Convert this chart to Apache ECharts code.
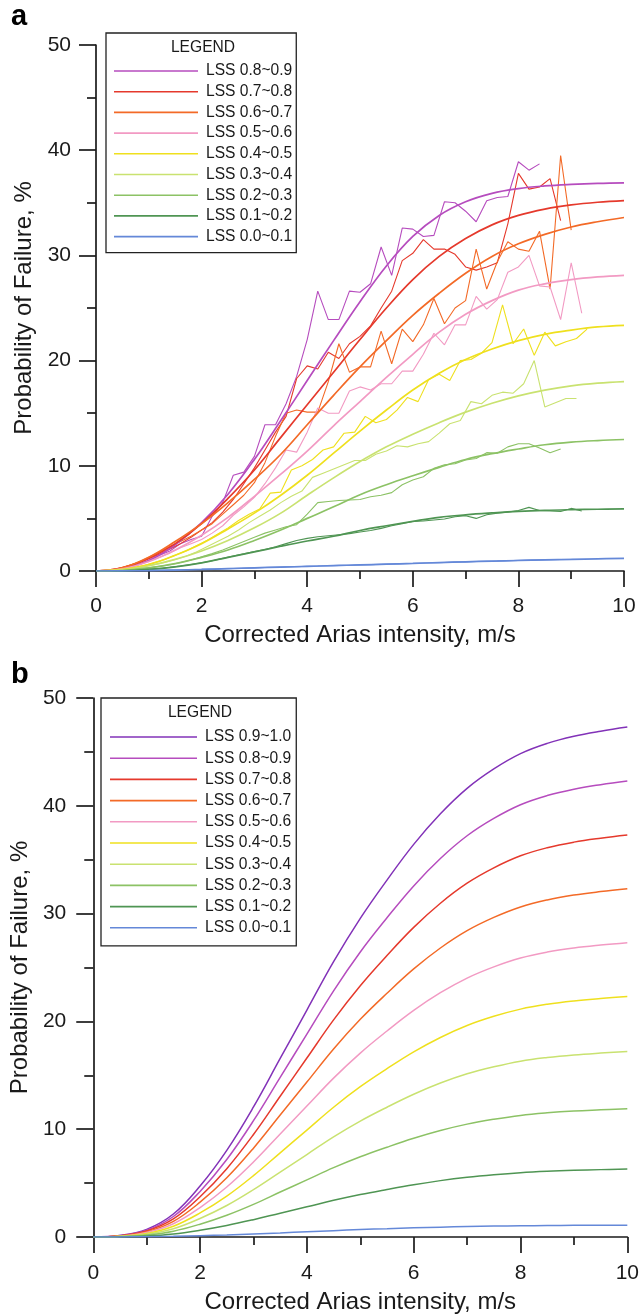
<!DOCTYPE html>
<html><head><meta charset="utf-8">
<script src="https://cdn.jsdelivr.net/npm/echarts@6/dist/echarts.min.js"></script>
<style>html,body{margin:0;padding:0;background:#fff}#c{width:642px;height:1315px}</style>
</head><body><div id="c"></div>
<script>
// ---------- DATA ----------
const namesA = ['LSS 0.8~0.9','LSS 0.7~0.8','LSS 0.6~0.7','LSS 0.5~0.6','LSS 0.4~0.5','LSS 0.3~0.4','LSS 0.2~0.3','LSS 0.1~0.2','LSS 0.0~0.1'];
const namesB = ['LSS 0.9~1.0','LSS 0.8~0.9','LSS 0.7~0.8','LSS 0.6~0.7','LSS 0.5~0.6','LSS 0.4~0.5','LSS 0.3~0.4','LSS 0.2~0.3','LSS 0.1~0.2','LSS 0.0~0.1'];
const xTicks = [0,2,4,6,8,10];
const yTicks = [0,10,20,30,40,50];

// x grid of fitted curves
const fitX = [0,0.5,1,1.5,2,2.5,3,3.5,4,4.5,5,5.5,6,6.5,7,7.5,8,8.5,9,9.5,10];
// x grids of observed (binned) curves in panel a
const obsXa = [0.4,0.6,0.8,1.0,1.2,1.4,1.6,1.8,2.0,2.2,2.4,2.6,2.8,3.0,3.2,3.4,3.6,3.8,4.0,4.2,4.4,4.6,4.8,5.0,5.2,5.4,5.6,5.8,6.0,6.2,6.4,6.6,6.8,7.0,7.2,7.4,7.6,7.8,8.0,8.2,8.4,8.6,8.8,9.0,9.2];
const obsXb = [0.3,0.5,0.7,0.9,1.1,1.3,1.5,1.7,1.9,2.1,2.3,2.5,2.7,2.9,3.1,3.3,3.5,3.7,3.9,4.1,4.3,4.5,4.7,4.9,5.1,5.3,5.5,5.7,5.9,6.1,6.3,6.5,6.7,6.9,7.1,7.3,7.5,7.7,7.9,8.1,8.3,8.5,8.7,8.9,9.1,9.3];

// panel a, observed
const obs89 = [0.1,0.3,0.6,1.0,1.5,1.9,2.6,3.0,3.3,5.2,6.5,9.1,9.4,10.9,13.9,13.9,15.9,18.5,22.0,26.6,23.9,23.9,26.6,26.5,27.3,30.8,28.1,32.6,32.5,31.8,31.9,35.1,35.0,34.2,33.2,35.2,35.5,35.6,38.9,38.1,38.7,null,null,null,null];
const obs78 = [0.2,0.4,0.8,1.2,1.6,2.1,2.6,3.2,3.9,4.6,5.6,6.8,8.3,9.8,11.5,13.2,14.7,18.3,19.5,19.2,20.8,20.2,21.6,22.3,23.3,25.0,26.6,29.5,30.2,31.5,30.6,30.6,30.1,28.9,28.6,28.9,29.3,33.0,37.8,36.3,36.5,37.3,33.3,null,null];
const obs67 = [0.2,0.5,0.8,1.3,1.8,2.3,2.8,3.3,3.9,4.5,5.4,6.3,7.2,8.4,10.3,12.8,15.0,15.3,15.1,15.1,18.0,21.6,18.9,19.4,19.4,22.8,19.7,23.0,21.8,23.4,25.9,23.5,25.0,25.7,30.6,26.8,29.4,31.3,30.6,30.4,32.3,26.8,39.5,32.4,null];
const obs56 = [0.1,0.3,0.6,0.9,1.3,1.7,2.2,2.6,3.0,3.6,4.3,5.3,6.1,7.0,8.3,9.8,11.5,11.3,13.2,15.5,15.0,15.0,17.1,17.5,17.2,17.8,17.8,19.0,19.0,20.6,22.6,21.5,23.4,23.4,26.1,24.9,25.8,28.4,28.9,30.0,27.1,27.0,23.9,29.3,24.5];
const obs45 = [0.05,0.15,0.3,0.5,0.8,1.1,1.5,1.9,2.4,2.9,3.5,4.1,4.8,5.4,5.9,7.4,7.5,9.6,10.0,10.6,11.5,11.8,13.1,13.2,14.7,14.1,14.4,15.3,16.5,16.1,18.2,18.7,18.1,20.0,20.1,20.7,21.7,25.3,21.6,23.0,20.5,22.7,21.4,21.8,22.1,23.0];
const obs34 = [0.05,0.1,0.2,0.4,0.6,0.8,1.1,1.4,1.8,2.3,2.8,3.3,3.9,4.6,5.2,5.8,6.5,7.1,7.6,8.9,9.3,9.7,10.1,10.5,10.5,11.1,11.4,11.9,11.8,12.1,12.3,13.1,14.0,14.3,16.1,15.9,16.7,17.0,16.9,17.8,20.0,15.6,16.0,16.4,16.4,null];
const obs23 = [0.05,0.1,0.2,0.3,0.45,0.6,0.8,1.05,1.35,1.65,2.0,2.4,2.8,3.2,3.6,3.9,4.2,4.4,5.4,6.5,6.6,6.7,6.75,6.8,7.06,7.2,7.45,8.2,8.65,8.96,9.76,10.1,10.2,10.55,10.7,11.25,11.2,11.8,12.1,12.1,11.7,11.25,11.6,null,null];
const obs12 = [0.01,0.04,0.08,0.15,0.24,0.35,0.48,0.62,0.78,0.98,1.2,1.42,1.63,1.85,2.05,2.3,2.6,2.9,3.1,3.25,3.35,3.45,3.55,3.7,3.85,4.05,4.3,4.5,4.7,4.75,4.85,4.95,5.15,5.25,5.0,5.35,5.5,5.6,5.75,6.05,5.75,5.7,5.65,5.95,5.7];
const obs01 = [0.01,0.02,0.03,0.04,0.06,0.08,0.1,0.13,0.15,0.18,0.21,0.24,0.27,0.3,0.33,0.36,0.39,0.41,0.45,0.47,0.5,0.53,0.55,0.58,0.61,0.64,0.67,0.7,0.72,0.76,0.79,0.81,0.85,0.87,0.9,0.93,0.95,0.98,1.01,1.03,1.05,1.08,1.1,1.12,null];

// panel a, fitted
const fitA89 = [0,0.25,1.0,2.5,4.6,7.3,10.6,14.3,18.1,21.9,25.6,29.0,31.8,33.8,35.1,35.9,36.35,36.6,36.75,36.85,36.9];
const fitA78 = [0,0.3,1.2,2.6,4.5,6.9,9.6,12.7,15.8,18.9,22.0,25.0,27.7,29.9,31.6,32.9,33.8,34.4,34.8,35.05,35.2];
const fitA67 = [0,0.3,1.3,2.8,4.5,6.5,8.7,11.1,13.9,16.7,19.4,21.9,24.3,26.4,28.3,29.9,31.1,32.0,32.7,33.2,33.6];
const fitA56 = [0,0.2,0.9,2.0,3.4,5.1,7.1,9.2,11.4,13.8,16.1,18.4,20.6,22.7,24.4,25.7,26.7,27.3,27.7,27.95,28.1];
const fitA45 = [0,0.15,0.6,1.5,2.6,4.0,5.5,7.2,9.1,11.2,13.3,15.3,17.2,18.8,20.1,21.1,21.9,22.5,22.9,23.2,23.35];
const fitA34 = [0,0.1,0.5,1.1,1.9,2.9,4.1,5.5,7.2,8.85,10.4,11.8,13.0,14.1,15.1,15.95,16.65,17.2,17.6,17.85,18.0];
const fitA23 = [0,0.05,0.3,0.7,1.3,2.0,2.9,3.9,5.0,6.1,7.25,8.2,9.05,9.85,10.6,11.15,11.6,12.0,12.25,12.4,12.5];
const fitA12 = [0,0.02,0.15,0.4,0.78,1.3,1.82,2.35,2.85,3.3,3.85,4.3,4.72,5.1,5.34,5.52,5.67,5.77,5.83,5.87,5.9];
const fitA01 = [0,0.01,0.04,0.09,0.15,0.22,0.3,0.37,0.44,0.51,0.58,0.65,0.72,0.8,0.87,0.94,1.0,1.06,1.11,1.16,1.2];

// panel b, fitted
const fitB910 = [0,0.14,0.71,2.13,4.73,8.04,12.06,16.56,21.05,25.54,29.56,33.11,36.42,39.26,41.62,43.42,44.84,45.79,46.45,46.92,47.3];
const fitB89 = [0,0.13,0.63,1.9,4.23,7.19,10.79,14.81,18.82,22.84,26.44,29.61,32.57,35.11,37.22,38.83,40.1,40.95,41.54,41.96,42.3];
const fitB78 = [0,0.11,0.56,1.68,3.73,6.34,9.51,13.06,16.6,20.14,23.31,26.11,28.72,30.96,32.82,34.24,35.36,36.11,36.63,37.0,37.3];
const fitB67 = [0,0.1,0.48,1.45,3.23,5.49,8.24,11.31,14.37,17.44,20.19,22.61,24.87,26.81,28.42,29.65,30.62,31.27,31.72,32.04,32.3];
const fitB56 = [0,0.08,0.41,1.23,2.73,4.64,6.96,9.56,12.15,14.74,17.06,19.11,21.02,22.66,24.02,25.06,25.88,26.43,26.81,27.08,27.3];
const fitB45 = [0,0.07,0.33,1.0,2.23,3.79,5.69,7.81,9.92,12.04,13.94,15.61,17.17,18.51,19.62,20.47,21.14,21.59,21.9,22.12,22.3];
const fitB34 = [0,0.05,0.26,0.77,1.72,2.92,4.39,6.02,7.65,9.29,10.75,12.04,13.24,14.28,15.14,15.79,16.31,16.65,16.89,17.06,17.2];
const fitB23 = [0,0.04,0.18,0.54,1.19,2.02,3.03,4.17,5.3,6.43,7.44,8.33,9.16,9.88,10.47,10.92,11.28,11.52,11.69,11.8,11.9];
const fitB12 = [0,0.02,0.09,0.28,0.63,1.07,1.61,2.21,2.8,3.4,3.94,4.41,4.85,5.23,5.54,5.78,5.97,6.1,6.19,6.25,6.3];
const fitB01 = [0,0.01,0.03,0.06,0.12,0.19,0.28,0.38,0.49,0.59,0.69,0.77,0.85,0.91,0.97,1.01,1.04,1.06,1.08,1.09,1.1];

// ---------- STYLE ----------
const colorOf = {
  'LSS 0.9~1.0':'#8232b8','LSS 0.8~0.9':'#b64cbe','LSS 0.7~0.8':'#e5392c','LSS 0.6~0.7':'#f36a27',
  'LSS 0.5~0.6':'#f29ac3','LSS 0.4~0.5':'#efe01e','LSS 0.3~0.4':'#c9e270','LSS 0.2~0.3':'#8cc265',
  'LSS 0.1~0.2':'#4f9553','LSS 0.0~0.1':'#6488d8'
};
const FONT = '"Liberation Sans", Arial, sans-serif';
const INK = '#1a1a1a';

const obsA = [[obs89,obsXa],[obs78,obsXa],[obs67,obsXa],[obs56,obsXa],[obs45,obsXb],[obs34,obsXb],[obs23,obsXa],[obs12,obsXa],[obs01,obsXa]];
const fitA = [fitA89,fitA78,fitA67,fitA56,fitA45,fitA34,fitA23,fitA12,fitA01];
const fitB = [fitB910,fitB89,fitB78,fitB67,fitB56,fitB45,fitB34,fitB23,fitB12,fitB01];

function pairs(xs, ys){ const out=[]; for(let i=0;i<xs.length;i++){ if(ys[i]!=null) out.push([xs[i], ys[i]]); } return out; }

const series = [];
namesA.forEach((n,i)=>{
  const c = colorOf[n];
  series.push({type:'line', name:n, xAxisIndex:0, yAxisIndex:0, data:pairs(obsA[i][1], obsA[i][0]),
    symbol:'none', lineStyle:{width:1.1, color:c}, itemStyle:{color:c}, z:2, silent:true});
});
namesA.forEach((n,i)=>{
  const c = colorOf[n];
  series.push({type:'line', name:n, xAxisIndex:0, yAxisIndex:0, data:pairs(fitX, fitA[i]), smooth:0.4,
    symbol:'none', lineStyle:{width:1.7, color:c}, itemStyle:{color:c}, z:3, silent:true});
});
namesB.forEach((n,i)=>{
  const c = colorOf[n];
  series.push({type:'line', name:n, xAxisIndex:1, yAxisIndex:1, data:pairs(fitX, fitB[i]), smooth:0.4,
    symbol:'none', lineStyle:{width:1.5, color:c}, itemStyle:{color:c}, z:3, silent:true});
});

function xAx(gi, gap, margin){
  return {gridIndex:gi, type:'value', min:0, max:10, interval:2,
    axisLine:{show:true, onZero:false, lineStyle:{color:INK, width:1.7}},
    axisTick:{show:true, inside:false, length:16, lineStyle:{color:INK, width:1.7}},
    minorTick:{show:true, splitNumber:2, length:8, lineStyle:{color:INK, width:1.7}},
    splitLine:{show:false}, minorSplitLine:{show:false},
    axisLabel:{fontSize:21, color:INK, fontFamily:FONT, margin:margin,
      formatter:v=> xTicks.indexOf(v)>=0 ? String(v) : ''},
    name:'Corrected Arias intensity, m/s', nameLocation:'middle', nameGap:gap,
    nameTextStyle:{fontSize:24, color:INK, fontFamily:FONT}};
}
function yAx(gi, gap, margin){
  return {gridIndex:gi, type:'value', min:0, max:50, interval:10,
    axisLine:{show:true, onZero:false, lineStyle:{color:INK, width:1.7}},
    axisTick:{show:true, inside:false, length:17, lineStyle:{color:INK, width:1.7}},
    minorTick:{show:true, splitNumber:2, length:9, lineStyle:{color:INK, width:1.7}},
    splitLine:{show:false}, minorSplitLine:{show:false},
    axisLabel:{fontSize:21, color:INK, fontFamily:FONT, margin:margin,
      formatter:v=> yTicks.indexOf(v)>=0 ? String(v) : ''},
    name:'Probability of Failure, %', nameLocation:'middle', nameGap:gap, nameRotate:90,
    nameTextStyle:{fontSize:24, color:INK, fontFamily:FONT}};
}

function legendCfg(names, left, top, pad, iw, gap){
  return {data:names, orient:'vertical', left:left, top:top, icon:'rect', itemWidth:iw, itemHeight:1.6,
    itemGap:gap, padding:pad, borderColor:'#222', borderWidth:1.3, backgroundColor:'#fff',
    selectedMode:false, textStyle:{fontSize:15.6, color:INK, fontFamily:FONT, lineHeight:16, padding:[0,0,0,3]}};
}

const chart = echarts.init(document.getElementById('c'), null, {renderer:'canvas'});
chart.setOption({
  animation:false,
  backgroundColor:'#fff',
  grid:[
    {left:96, top:45, width:528, height:526, containLabel:false},
    {left:90, top:698, width:544, height:540, containLabel:false}
  ],
  xAxis:[xAx(0,52,25), xAx(1,53,26)],
  yAxis:[yAx(0,59,25), yAx(1,56,27)],
  legend:[
    legendCfg(namesA, 106, 33, [30,4,8,8], 84, 4.7),
    legendCfg(namesB, 101, 698, [31,5,10,9], 87, 5.2)
  ],
  graphic:[
    {type:'text', left:11, top:2, style:{text:'a', font:'bold 29px "Liberation Sans", Arial', fill:'#000'}, z:10},
    {type:'text', left:11, top:660, style:{text:'b', font:'bold 29px "Liberation Sans", Arial', fill:'#000'}, z:10},
    {type:'text', x:203, y:48, style:{text:'LEGEND', font:'15.6px "Liberation Sans", Arial', fill:INK, textAlign:'center', textVerticalAlign:'middle'}, z:10},
    {type:'text', x:200, y:713, style:{text:'LEGEND', font:'15.6px "Liberation Sans", Arial', fill:INK, textAlign:'center', textVerticalAlign:'middle'}, z:10}
  ],
  series:series
});
</script></body></html>
